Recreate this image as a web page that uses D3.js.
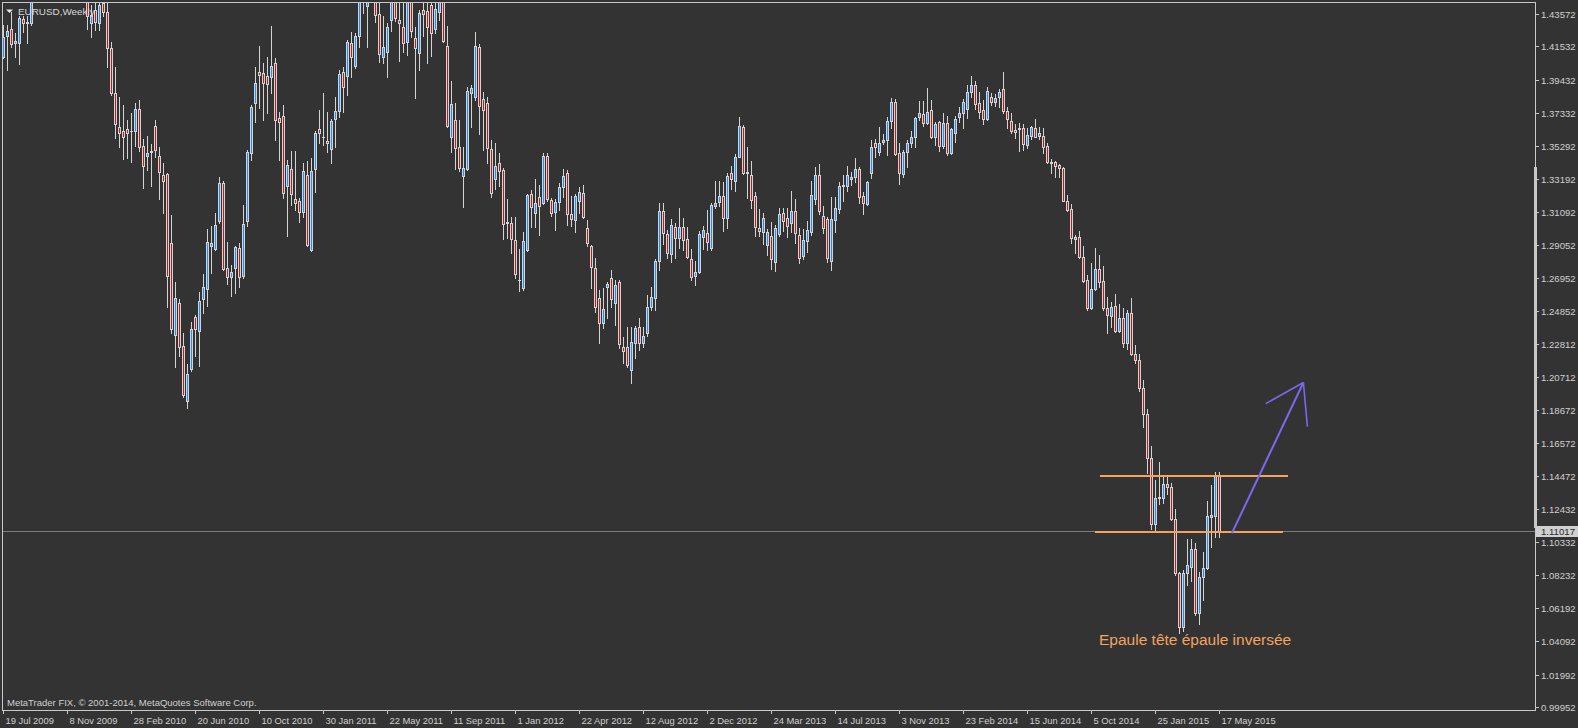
<!DOCTYPE html>
<html><head><meta charset="utf-8">
<script src="https://cdn.jsdelivr.net/npm/d3@7"></script>
<style>
html,body{margin:0;padding:0;background:#333333;overflow:hidden}
svg{display:block}
text{font-family:'Liberation Sans',Arial,sans-serif}
</style></head><body>
<svg id="chart" width="1578" height="728"></svg>
<script>
// ---------------- data ----------------
const symbolTitle = "EURUSD,Weekly";
const copyright = "MetaTrader FIX, \u00A9 2001-2014, MetaQuotes Software Corp.";
const dateLabels = ["19 Jul 2009","8 Nov 2009","28 Feb 2010","20 Jun 2010","10 Oct 2010","30 Jan 2011","22 May 2011","11 Sep 2011","1 Jan 2012","22 Apr 2012","12 Aug 2012","2 Dec 2012","24 Mar 2013","14 Jul 2013","3 Nov 2013","23 Feb 2014","15 Jun 2014","5 Oct 2014","25 Jan 2015","17 May 2015"];
const barsPerDateLabel = 16;
const priceTicks = [1.43572,1.41532,1.39432,1.37332,1.35292,1.33192,1.31092,1.29052,1.26952,1.24852,1.22812,1.20712,1.18672,1.16572,1.14472,1.12432,1.10332,1.08232,1.06192,1.04092,1.01992,0.99952];
const currentPrice = 1.11017;

const open = [
1.4086,1.4218,1.4262,1.4174,1.4174,1.4325,1.4300,1.4300,1.4570,1.4700,
1.4680,1.4720,1.4760,1.4910,1.5000,1.4720,1.4865,1.4960,1.4900,1.4990,
1.5010,1.4620,1.4300,1.4382,1.4300,1.4426,1.4370,1.4143,1.3859,1.3645,
1.3620,1.3633,1.3620,1.3620,1.3758,1.3525,1.3462,1.3494,1.3651,1.3462,
1.3343,1.3349,1.2914,1.2334,1.2536,1.2265,1.1919,1.2120,1.2448,1.2360,
1.2562,1.2625,1.2895,1.2876,1.3053,1.3292,1.2757,1.2700,1.2757,1.2883,
1.2706,1.3053,1.3481,1.3796,1.3991,1.3985,1.3966,1.3960,1.4048,1.3702,
1.3714,1.3273,1.3380,1.3191,1.3179,1.3109,1.3342,1.2870,1.3380,1.3632,
1.3582,1.3557,1.3506,1.3696,1.3746,1.3991,1.3966,1.4174,1.4029,1.4218,
1.4470,1.4407,1.4580,1.4810,1.4357,1.4086,1.4117,1.4319,1.4640,1.4319,
1.4275,1.4180,1.4510,1.4206,1.4111,1.4382,1.4376,1.4414,1.4262,1.4369,
1.4500,1.4155,1.3583,1.3689,1.3519,1.3336,1.3380,1.3859,1.3834,1.4149,
1.3821,1.3796,1.3506,1.3317,1.3418,1.3374,1.3040,1.3040,1.2933,1.2680,
1.2630,1.2870,1.3223,1.3103,1.3204,1.3166,1.3462,1.3185,1.3109,1.3172,
1.3267,1.3355,1.3097,1.3059,1.3178,1.3229,1.3009,1.2895,1.2757,1.2568,
1.2410,1.2637,1.2694,1.2536,1.2669,1.2259,1.2259,1.2114,1.2284,1.2385,
1.2284,1.2347,1.2511,1.2568,1.2801,1.3116,1.2971,1.2845,1.3015,1.2946,
1.3015,1.2939,1.2814,1.2706,1.2732,1.2952,1.2977,1.2883,1.3147,1.3172,
1.3210,1.3072,1.3355,1.3305,1.3456,1.3645,1.3355,1.3342,1.3210,1.3009,
1.2984,1.2901,1.2959,1.2794,1.2971,1.3103,1.3072,1.3040,1.3116,1.2965,
1.2832,1.2927,1.2984,1.3191,1.3342,1.3084,1.3065,1.2801,1.3059,1.3128,
1.3273,1.3273,1.3317,1.3330,1.3380,1.3210,1.3160,1.3355,1.3544,1.3488,
1.3551,1.3563,1.3683,1.3802,1.3481,1.3349,1.3488,1.3544,1.3582,1.3708,
1.3727,1.3670,1.3752,1.3582,1.3677,1.3525,1.3670,1.3481,1.3607,1.3708,
1.3733,1.3758,1.3865,1.3910,1.3796,1.3752,1.3696,1.3834,1.3803,1.3834,
1.3884,1.3746,1.3683,1.3626,1.3639,1.3639,1.3532,1.3588,1.3639,1.3588,
1.3588,1.3525,1.3425,1.3425,1.3406,1.3387,1.3179,1.3128,1.2939,1.2952,
1.2826,1.2681,1.2505,1.2624,1.2751,1.2675,1.2505,1.2454,1.2517,1.2360,
1.2442,1.2284,1.2473,1.2215,1.2177,1.2001,1.1837,1.1562,1.1148,1.1311,
1.1311,1.1399,1.1380,1.1179,1.0839,1.0499,1.0839,1.0877,1.0990,1.0587,
1.0814,1.0870,1.1192,1.1198,1.1450];

const high = [
1.4288,1.4288,1.4369,1.4237,1.4344,1.4344,1.4344,1.4600,1.4745,1.4845,
1.4730,1.4790,1.4960,1.5060,1.5030,1.4890,1.5010,1.5030,1.5145,1.5145,
1.5020,1.4640,1.4414,1.4511,1.4500,1.4580,1.4450,1.4180,1.4023,1.3834,
1.3784,1.3689,1.3733,1.3796,1.3815,1.3570,1.3588,1.3538,1.3689,1.3519,
1.3418,1.3355,1.3091,1.2669,1.2562,1.2347,1.2152,1.2417,1.2461,1.2606,
1.2719,1.3003,1.3021,1.3103,1.3330,1.3305,1.2921,1.2775,1.2895,1.2914,
1.3154,1.3500,1.3784,1.4023,1.4155,1.4048,1.4086,1.4281,1.4080,1.3740,
1.3784,1.3437,1.3494,1.3494,1.3198,1.3418,1.3431,1.3450,1.3620,1.3752,
1.3859,1.3740,1.3696,1.3834,1.4004,1.4023,1.4193,1.4243,1.4237,1.4490,
1.4520,1.4610,1.4830,1.4940,1.4445,1.4344,1.4300,1.4680,1.4700,1.4460,
1.4450,1.4530,1.4580,1.4275,1.4382,1.4450,1.4450,1.4470,1.4450,1.4550,
1.4550,1.4281,1.3935,1.3796,1.3689,1.3519,1.3897,1.3910,1.4243,1.4168,
1.3865,1.3834,1.3563,1.3544,1.3481,1.3387,1.3191,1.3078,1.3078,1.2876,
1.2983,1.3223,1.3248,1.3317,1.3280,1.3481,1.3481,1.3198,1.3191,1.3292,
1.3380,1.3374,1.3210,1.3223,1.3267,1.3280,1.3059,1.2902,1.2820,1.2618,
1.2631,1.2668,1.2744,1.2681,1.2681,1.2322,1.2385,1.2385,1.2391,1.2442,
1.2385,1.2587,1.2637,1.2814,1.3166,1.3166,1.2996,1.3065,1.3040,1.3135,
1.3072,1.3015,1.2876,1.2801,1.2990,1.3021,1.3122,1.3166,1.3305,1.3305,
1.3298,1.3355,1.3399,1.3475,1.3708,1.3658,1.3519,1.3430,1.3236,1.3128,
1.3103,1.3003,1.3047,1.3028,1.3135,1.3135,1.3135,1.3242,1.3191,1.3009,
1.3003,1.3053,1.3305,1.3393,1.3412,1.3147,1.3078,1.3204,1.3204,1.3298,
1.3342,1.3399,1.3362,1.3450,1.3393,1.3236,1.3305,1.3563,1.3570,1.3645,
1.3601,1.3708,1.3828,1.3821,1.3544,1.3500,1.3563,1.3620,1.3708,1.3809,
1.3809,1.3891,1.3815,1.3677,1.3683,1.3733,1.3714,1.3639,1.3714,1.3771,
1.3821,1.3910,1.3966,1.3935,1.3865,1.3815,1.3897,1.3859,1.3853,1.3884,
1.3991,1.3771,1.3733,1.3664,1.3670,1.3664,1.3639,1.3651,1.3696,1.3645,
1.3639,1.3544,1.3444,1.3431,1.3412,1.3393,1.3217,1.3160,1.2965,1.2990,
1.2895,1.2713,1.2788,1.2883,1.2839,1.2770,1.2574,1.2543,1.2593,1.2530,
1.2505,1.2492,1.2568,1.2272,1.2215,1.2051,1.1868,1.1640,1.1424,1.1537,
1.1449,1.1449,1.1405,1.1242,1.0845,1.0858,1.1052,1.1052,1.1027,1.0845,
1.0971,1.1289,1.1390,1.1475,1.1475];

const low = [
1.4080,1.4004,1.4149,1.4086,1.4042,1.4243,1.4174,1.4288,1.4550,1.4630,
1.4480,1.4580,1.4720,1.4840,1.4640,1.4620,1.4820,1.4830,1.4830,1.4940,
1.4580,1.4260,1.4212,1.4256,1.4256,1.4346,1.4023,1.3850,1.3576,1.3519,
1.3443,1.3450,1.3425,1.3525,1.3494,1.3261,1.3374,1.3273,1.3456,1.3191,
1.3103,1.2511,1.2347,1.2133,1.2202,1.1944,1.1875,1.2108,1.2202,1.2140,
1.2474,1.2518,1.2725,1.2870,1.3040,1.2744,1.2656,1.2581,1.2600,1.2637,
1.2694,1.3021,1.3437,1.3680,1.3765,1.3689,1.3733,1.3859,1.3563,1.3437,
1.3198,1.2958,1.3154,1.3122,1.3047,1.3078,1.2895,1.2864,1.3236,1.3544,
1.3532,1.3488,1.3418,1.3519,1.3708,1.3740,1.3847,1.3960,1.4017,1.4149,
1.4365,1.4150,1.4550,1.4306,1.4055,1.4048,1.3960,1.4250,1.4313,1.4061,
1.4117,1.4099,1.4212,1.3828,1.4004,1.4218,1.4048,1.4092,1.4237,1.4319,
1.4180,1.3645,1.3487,1.3380,1.3368,1.3141,1.3374,1.3645,1.3815,1.3601,
1.3500,1.3418,1.3204,1.3254,1.3273,1.2939,1.2946,1.2851,1.2694,1.2612,
1.2618,1.2864,1.3015,1.3015,1.2965,1.3160,1.3179,1.3084,1.2996,1.3122,
1.3204,1.3027,1.3021,1.2984,1.3103,1.3072,1.2895,1.2631,1.2480,1.2284,
1.2379,1.2442,1.2511,1.2398,1.2253,1.2158,1.2133,1.2032,1.2190,1.2240,
1.2259,1.2328,1.2492,1.2492,1.2744,1.2908,1.2820,1.2795,1.2820,1.2883,
1.2870,1.2820,1.2681,1.2650,1.2725,1.2876,1.2870,1.2870,1.3135,1.3147,
1.2990,1.3009,1.3254,1.3241,1.3456,1.3349,1.3198,1.3135,1.2958,1.2958,
1.2908,1.2840,1.2751,1.2738,1.2958,1.2990,1.2952,1.2984,1.2914,1.2788,
1.2814,1.2857,1.2965,1.3160,1.3097,1.2977,1.2795,1.2744,1.2984,1.3103,
1.3179,1.3241,1.3280,1.3298,1.3166,1.3097,1.3154,1.3324,1.3456,1.3469,
1.3538,1.3469,1.3639,1.3469,1.3286,1.3330,1.3393,1.3519,1.3519,1.3689,
1.3651,1.3664,1.3576,1.3532,1.3494,1.3513,1.3469,1.3475,1.3551,1.3677,
1.3639,1.3702,1.3834,1.3758,1.3702,1.3664,1.3689,1.3784,1.3777,1.3771,
1.3733,1.3639,1.3607,1.3576,1.3494,1.3500,1.3513,1.3570,1.3582,1.3570,
1.3481,1.3418,1.3355,1.3330,1.3330,1.3179,1.3116,1.2914,1.2851,1.2820,
1.2669,1.2492,1.2498,1.2618,1.2637,1.2492,1.2347,1.2385,1.2354,1.2354,
1.2259,1.2247,1.2209,1.2159,1.1984,1.1755,1.1468,1.1117,1.1097,1.1273,
1.1279,1.1336,1.1172,1.0826,1.0461,1.0474,1.0760,1.0791,1.0575,1.0518,
1.0669,1.0864,1.1000,1.1065,1.1065];

const close = [
1.4212,1.4250,1.4168,1.4187,1.4332,1.4300,1.4306,1.4570,1.4700,1.4680,
1.4720,1.4760,1.4910,1.5000,1.4720,1.4865,1.4960,1.4900,1.4990,1.5010,
1.4620,1.4345,1.4350,1.4306,1.4414,1.4370,1.4143,1.3859,1.3664,1.3607,
1.3582,1.3607,1.3622,1.3758,1.3519,1.3399,1.3481,1.3490,1.3500,1.3362,
1.3305,1.2706,1.2372,1.2568,1.2259,1.1956,1.2089,1.2372,1.2372,1.2549,
1.2637,1.2921,1.2914,1.3027,1.3292,1.2751,1.2700,1.2732,1.2889,1.2700,
1.3034,1.3488,1.3771,1.3922,1.3972,1.3922,1.3916,1.4029,1.3689,1.3677,
1.3229,1.3405,1.3223,1.3166,1.3109,1.3368,1.2902,1.3368,1.3607,1.3607,
1.3586,1.3544,1.3683,1.3746,1.3979,1.3897,1.4180,1.4086,1.4218,1.4450,
1.4430,1.4580,1.4810,1.4350,1.4105,1.4149,1.4275,1.4640,1.4332,1.4300,
1.4174,1.4510,1.4250,1.4143,1.4363,1.4357,1.4275,1.4237,1.4388,1.4500,
1.4187,1.3651,1.3790,1.3513,1.3387,1.3387,1.3872,1.3891,1.4155,1.3777,
1.3752,1.3513,1.3229,1.3399,1.3368,1.3034,1.3045,1.2939,1.2719,1.2685,
1.2927,1.3217,1.3141,1.3166,1.3147,1.3462,1.3191,1.3103,1.3172,1.3267,
1.3336,1.3097,1.3065,1.3210,1.3236,1.3078,1.2914,1.2763,1.2511,1.2410,
1.2498,1.2656,1.2561,1.2650,1.2278,1.2234,1.2146,1.2291,1.2379,1.2284,
1.2328,1.2511,1.2574,1.2801,1.3116,1.2977,1.2851,1.3027,1.2946,1.3015,
1.2933,1.2826,1.2701,1.2732,1.2971,1.2996,1.2920,1.3154,1.3166,1.3210,
1.3072,1.3336,1.3317,1.3456,1.3651,1.3355,1.3360,1.3185,1.3015,1.2990,
1.3072,1.2984,1.2814,1.3009,1.3097,1.3053,1.3021,1.3116,1.2977,1.2820,
1.2933,1.2996,1.3217,1.3342,1.3116,1.3009,1.2820,1.3065,1.3135,1.3273,
1.3280,1.3342,1.3330,1.3380,1.3204,1.3166,1.3298,1.3519,1.3519,1.3544,
1.3563,1.3683,1.3802,1.3475,1.3355,1.3488,1.3544,1.3582,1.3702,1.3733,
1.3670,1.3740,1.3582,1.3664,1.3525,1.3670,1.3481,1.3632,1.3696,1.3733,
1.3802,1.3865,1.3910,1.3790,1.3740,1.3696,1.3872,1.3803,1.3828,1.3865,
1.3746,1.3696,1.3620,1.3614,1.3633,1.3538,1.3595,1.3645,1.3582,1.3607,
1.3519,1.3425,1.3420,1.3399,1.3387,1.3179,1.3122,1.2946,1.2952,1.2826,
1.2675,1.2505,1.2624,1.2751,1.2669,1.2505,1.2461,1.2511,1.2360,1.2442,
1.2284,1.2473,1.2215,1.2177,1.2001,1.1837,1.1562,1.1148,1.1311,1.1317,
1.1399,1.1380,1.1179,1.0839,1.0499,1.0839,1.0889,1.0990,1.0587,1.0814,
1.0870,1.1198,1.1204,1.1450,1.1102];

// drawn objects (bar index, price)
const upperLine = {from: 274.2, to: 321.2, price: 1.1451};
const lowerLine = {from: 273.0, to: 320.1, price: 1.1097};
const arrowShaft = [[307.2, 1.1088], [325.1, 1.2038]];
const arrowBarbs = [[315.7, 1.1905], [326.1, 1.1760]];
const patternLabel = {text: "Epaule tête épaule inversée", bar: 274.0, price: 1.0385};

// ---------------- drawing ----------------
const W = 1578, H = 728;
const plot = {left: 2, top: 2, right: 1535, bottom: 710};
const svg = d3.select("#chart");
svg.append("rect").attr("width", W).attr("height", H).attr("fill", "#333333");

const n = Math.min(open.length, high.length, low.length, close.length);
const x = d3.scaleLinear().domain([0, 304]).range([3, 1219]);
const y = d3.scaleLinear().domain([0.99952, 1.43572]).range([707, 14]);

const defs = svg.append("defs");
defs.append("clipPath").attr("id", "plotclip").append("rect")
  .attr("x", plot.left + 1).attr("y", plot.top + 1)
  .attr("width", plot.right - plot.left - 1).attr("height", plot.bottom - plot.top - 1);

const fg = "#c8c8c8";
const gPlot = svg.append("g").attr("clip-path", "url(#plotclip)");

// current price line
const cpY = Math.round(y(currentPrice)) + 0.5;
gPlot.append("line").attr("x1", plot.left).attr("x2", plot.right).attr("y1", cpY).attr("y2", cpY)
  .attr("stroke", "#7c7c7c").attr("stroke-width", 1).attr("shape-rendering", "crispEdges");

// candles
const bars = d3.range(n).map(i => ({i, o: open[i], h: high[i], l: low[i], c: close[i]}));
const gC = gPlot.append("g").attr("shape-rendering", "crispEdges");
const cg = gC.selectAll("g.c").data(bars).join("g").attr("class", "c");
cg.append("line")
  .attr("x1", d => Math.round(x(d.i)) + 0.5).attr("x2", d => Math.round(x(d.i)) + 0.5)
  .attr("y1", d => Math.round(y(d.h))).attr("y2", d => Math.round(y(d.l)) + 1)
  .attr("stroke", "#d3d3d3").attr("stroke-width", 1);
cg.each(function(d) {
  const g = d3.select(this);
  const cx = Math.round(x(d.i));
  const t = Math.round(y(Math.max(d.o, d.c)));
  const b = Math.round(y(Math.min(d.o, d.c)));
  if (b - t < 1) {
    g.append("line").attr("x1", cx - 1).attr("x2", cx + 2).attr("y1", t + 0.5).attr("y2", t + 0.5)
      .attr("stroke", "#d3d3d3").attr("stroke-width", 1);
  } else {
    g.append("rect").attr("x", cx - 0.5).attr("y", t + 0.5).attr("width", 2).attr("height", b - t)
      .attr("fill", d.c >= d.o ? "#1e90ff" : "#b22222")
      .attr("stroke", "#d3d3d3").attr("stroke-width", 1);
  }
});

// pattern lines
const orange = "#f4a460";
[upperLine, lowerLine].forEach(L => {
  gPlot.append("line").attr("x1", x(L.from)).attr("x2", x(L.to))
    .attr("y1", Math.round(y(L.price))).attr("y2", Math.round(y(L.price)))
    .attr("stroke", orange).attr("stroke-width", 2).attr("shape-rendering", "crispEdges");
});
const purple = "#7b68ee";
const tip = arrowShaft[1];
gPlot.append("line").attr("x1", x(arrowShaft[0][0])).attr("y1", y(arrowShaft[0][1]))
  .attr("x2", x(tip[0])).attr("y2", y(tip[1])).attr("stroke", purple).attr("stroke-width", 2);
arrowBarbs.forEach(bp => {
  gPlot.append("line").attr("x1", x(bp[0])).attr("y1", y(bp[1]))
    .attr("x2", x(tip[0])).attr("y2", y(tip[1])).attr("stroke", purple).attr("stroke-width", 1.6);
});
gPlot.append("text").attr("x", x(patternLabel.bar)).attr("y", y(patternLabel.price))
  .attr("fill", orange).attr("font-size", "15.5px").text(patternLabel.text);

// frame
svg.append("rect").attr("x", plot.left + 0.5).attr("y", plot.top + 0.5)
  .attr("width", plot.right - plot.left).attr("height", plot.bottom - plot.top)
  .attr("fill", "none").attr("stroke", fg).attr("stroke-width", 1).attr("shape-rendering", "crispEdges");
svg.append("rect").attr("x", plot.right - 1).attr("y", 167).attr("width", 3).attr("height", 361)
  .attr("fill", fg);

// price axis
const gY = svg.append("g");
priceTicks.forEach(t => {
  const py = Math.round(y(t)) + 0.5;
  gY.append("line").attr("x1", plot.right + 1).attr("x2", plot.right + 4).attr("y1", py).attr("y2", py)
    .attr("stroke", fg).attr("shape-rendering", "crispEdges");
  gY.append("text").attr("x", 1541).attr("y", py + 3.3).attr("fill", "#d0d0d0")
    .attr("font-size", "9.6px").text(t.toFixed(5));
});
// current price label
const cpRectY = Math.round(y(currentPrice)) - 5;
gY.append("rect").attr("x", plot.right + 1).attr("y", cpRectY).attr("width", W - plot.right - 1).attr("height", 11)
  .attr("fill", "#d0d0d0");
gY.append("text").attr("x", 1541).attr("y", cpRectY + 8.8).attr("fill", "#2a2a2a")
  .attr("font-size", "9.6px").text(currentPrice.toFixed(5));

// time axis
const gX = svg.append("g");
dateLabels.forEach((lab, k) => {
  const px = Math.round(x(k * barsPerDateLabel)) + 0.5;
  gX.append("line").attr("x1", px).attr("x2", px).attr("y1", plot.bottom + 1).attr("y2", plot.bottom + 4)
    .attr("stroke", fg).attr("shape-rendering", "crispEdges");
  gX.append("text").attr("x", px + 2).attr("y", 723.5).attr("fill", "#d0d0d0")
    .attr("font-size", "9.4px").text(lab);
});

// title & copyright
svg.append("polygon").attr("points", "6,9.5 13,9.5 9.5,13").attr("fill", "#e6e6e6");
svg.append("text").attr("x", 18).attr("y", 14.5).attr("fill", "#d8d8d8").attr("font-size", "9.9px").text(symbolTitle);
svg.append("text").attr("x", 7).attr("y", 706).attr("fill", "#d0d0d0").attr("font-size", "9.5px").text(copyright);
</script>
</body></html>
